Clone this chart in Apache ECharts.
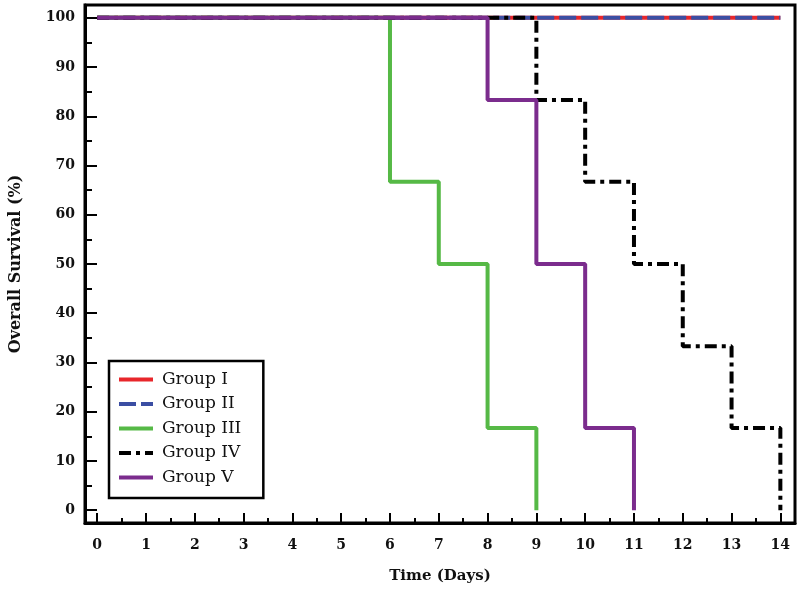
<!DOCTYPE html>
<html>
<head>
<meta charset="utf-8">
<script src="https://cdn.jsdelivr.net/npm/echarts@6/dist/echarts.min.js"></script>
<style>
  html, body { margin: 0; padding: 0; background: #fff; }
  #main { width: 800px; height: 591px; }
</style>
</head>
<body>
<div id="main"></div>
<script>
  // survival steps: [day, % surviving]
  var groupI = [[0, 100], [14, 100]];
  var groupII = [[0, 100], [14, 100]];
  var groupIII = [[0, 100], [6, 66.7], [7, 50], [8, 16.7], [9, 0]];
  var groupIV = [[0, 100], [9, 83.3], [10, 66.7], [11, 50], [12, 33.3], [13, 16.7], [14, 0]];
  var groupV = [[0, 100], [8, 83.3], [9, 50], [10, 16.7], [11, 0]];

  var dayTicks = [0, 1, 2, 3, 4, 5, 6, 7, 8, 9, 10, 11, 12, 13, 14];
  var dayMinor = [0.5, 1.5, 2.5, 3.5, 4.5, 5.5, 6.5, 7.5, 8.5, 9.5, 10.5, 11.5, 12.5, 13.5];
  var survTicks = [0, 10, 20, 30, 40, 50, 60, 70, 80, 90, 100];
  var survMinor = [5, 15, 25, 35, 45, 55, 65, 75, 85, 95];

  var font = 'DejaVu Serif';
  var myChart = echarts.init(document.getElementById('main'));

  function line(name, data, color, type) {
    return {
      name: name,
      type: 'line',
      step: 'end',
      symbol: 'none',
      data: data,
      xAxisIndex: 0,
      yAxisIndex: 0,
      lineStyle: { color: color, width: 4, type: type },
      itemStyle: { color: color }
    };
  }

  var option = {
    animation: false,
    grid: {
      left: 83, right: 5, top: 5, bottom: 68,
      show: true, borderColor: '#000', borderWidth: 3
    },
    legend: {
      orient: 'vertical',
      left: 109, top: 361,
      padding: [10, 22, 12, 8],
      borderColor: '#000',
      borderWidth: 2.5,
      itemWidth: 34,
      itemHeight: 12,
      itemGap: 7.5,
      itemStyle: { opacity: 0 },
      lineStyle: { width: 4 },
      textStyle: { fontFamily: font, fontSize: 17, color: '#111', padding: [0, 0, 0, 4] },
      data: ['Group I', 'Group II', 'Group III', 'Group IV', 'Group V']
    },
    xAxis: [{
      type: 'value',
      min: -0.25, max: 14.3,
      name: 'Time (Days)',
      nameLocation: 'middle',
      nameGap: 46,
      nameTextStyle: { fontFamily: font, fontSize: 15, fontWeight: 'bold', color: '#111' },
      splitLine: { show: false },
      axisLine: { show: true, onZero: false, lineStyle: { color: '#000', width: 3 } },
      axisTick: { show: true, inside: true, length: 10, customValues: dayTicks, lineStyle: { color: '#000', width: 2 } },
      axisLabel: { customValues: dayTicks, margin: 15, fontFamily: font, fontSize: 14, fontWeight: 'bold', color: '#111' }
    }, {
      type: 'value',
      min: -0.25, max: 14.3,
      position: 'bottom',
      splitLine: { show: false },
      axisLine: { show: false, onZero: false },
      axisTick: { show: true, inside: true, length: 5, customValues: dayMinor, lineStyle: { color: '#000', width: 2 } },
      axisLabel: { show: false }
    }],
    yAxis: [{
      type: 'value',
      min: -2.6, max: 102.6,
      name: 'Overall Survival (%)',
      nameLocation: 'middle',
      nameGap: 61,
      nameTextStyle: { fontFamily: font, fontSize: 16, fontWeight: 'bold', color: '#111' },
      splitLine: { show: false },
      axisLine: { show: true, onZero: false, lineStyle: { color: '#000', width: 3 } },
      axisTick: { show: true, inside: true, length: 12, customValues: survTicks, lineStyle: { color: '#000', width: 2 } },
      axisLabel: { customValues: survTicks, margin: 10, fontFamily: font, fontSize: 14, fontWeight: 'bold', color: '#111' }
    }, {
      type: 'value',
      min: -2.6, max: 102.6,
      position: 'left',
      splitLine: { show: false },
      axisLine: { show: false, onZero: false },
      axisTick: { show: true, inside: true, length: 7, customValues: survMinor, lineStyle: { color: '#000', width: 2 } },
      axisLabel: { show: false }
    }],
    series: [
      line('Group I', groupI, '#e8262b', 'solid'),
      line('Group II', groupII, '#3b4ea3', [17, 5]),
      line('Group III', groupIII, '#56b946', 'solid'),
      line('Group IV', groupIV, '#000000', [12, 5, 4, 5]),
      line('Group V', groupV, '#7b2c8d', 'solid')
    ]
  };
  myChart.setOption(option);
</script>
</body>
</html>
